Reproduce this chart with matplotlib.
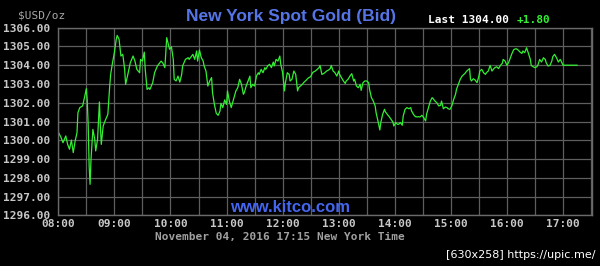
import numpy as np
import matplotlib.pyplot as plt

# minutes after 08:00 and bid price
minutes = [0, 3, 5, 8, 10, 12, 14, 16, 18, 20, 21, 23, 26, 28, 30, 31, 32, 33, 34, 35,
           37, 39, 40, 42, 44, 45, 46, 48, 50, 53, 55, 56, 58, 60, 62, 63, 65, 67, 69, 71,
           72, 74, 77, 80, 82, 84, 87, 88, 90, 92, 93, 95, 97, 98, 101, 103, 106, 110, 112, 114,
           116, 119, 121, 123, 124, 126, 128, 130, 132, 133, 136, 139, 140, 142, 144, 146, 148, 149, 151, 153,
           155, 156, 158, 160, 162, 164, 165, 167, 169, 171, 173, 174, 176, 178, 180, 181, 183, 185, 187, 189,
           190, 192, 194, 196, 198, 199, 201, 203, 205, 206, 208, 210, 212, 214, 215, 217, 219, 221, 222, 224,
           226, 228, 230, 231, 233, 235, 237, 238, 240, 242, 243, 245, 247, 248, 250, 252, 254, 256, 257, 259,
           261, 263, 265, 266, 268, 270, 272, 273, 275, 277, 279, 280, 282, 284, 286, 287, 289, 291, 292, 294,
           296, 298, 300, 301, 303, 305, 307, 308, 310, 312, 314, 316, 317, 319, 321, 323, 324, 326, 328, 330,
           332, 333, 335, 337, 339, 340, 342, 344, 345, 347, 349, 350, 352, 354, 356, 358, 359, 361, 363, 364,
           366, 368, 369, 371, 373, 375, 377, 378, 380, 382, 384, 385, 387, 389, 391, 393, 394, 396, 398, 400,
           401, 403, 405, 407, 409, 410, 412, 414, 416, 417, 419, 421, 423, 425, 426, 428, 430, 432, 434, 435,
           437, 439, 440, 441, 442, 444, 446, 448, 450, 451, 453, 455, 457, 458, 460, 462, 464, 466, 467, 469,
           471, 473, 475, 476, 478, 480, 482, 483, 485, 487, 488, 490, 492, 494, 496, 497, 499, 501, 503, 505,
           506, 508, 510, 512, 513, 515, 517, 519, 521, 522, 524, 526, 528, 529, 531, 533, 535, 537, 538, 540,
           555]
bid = [1300.44, 1300.14, 1299.87, 1300.23, 1299.78, 1299.52, 1300.01, 1299.34, 1299.96, 1300.40,
       1301.47, 1301.74, 1301.83, 1302.27, 1302.75, 1302.09, 1300.76, 1298.63, 1297.65, 1298.98,
       1300.58, 1300.05, 1299.43, 1300.05, 1302.04, 1300.76, 1299.78, 1300.76, 1301.03, 1301.38,
       1302.89, 1303.51, 1304.13, 1304.67, 1305.38, 1305.59, 1305.38, 1304.49, 1304.58, 1303.78,
       1302.98, 1303.42, 1304.13, 1304.49, 1304.22, 1303.78, 1303.60, 1304.31, 1304.22, 1304.70,
       1303.78, 1302.71, 1302.80, 1302.71, 1303.07, 1303.60, 1303.96, 1304.22, 1304.10, 1303.87,
       1305.47, 1304.85, 1304.99, 1304.31, 1303.25, 1303.16, 1303.42, 1303.10, 1303.51, 1303.96,
       1304.31, 1304.40, 1304.31, 1304.45, 1304.58, 1304.31, 1304.76, 1304.22, 1304.81, 1304.40,
       1304.22, 1303.96, 1303.69, 1302.89, 1303.16, 1303.34, 1302.54, 1301.91, 1301.44, 1301.33,
       1301.56, 1301.97, 1301.74, 1302.15, 1301.91, 1302.63, 1302.09, 1301.74, 1302.09, 1302.45,
       1302.63, 1302.80, 1303.25, 1302.98, 1302.45, 1302.54, 1302.89, 1303.16, 1303.42, 1302.80,
       1302.98, 1302.89, 1303.42, 1303.60, 1303.51, 1303.78, 1303.60, 1303.87, 1303.78, 1303.96,
       1304.05, 1303.87, 1304.17, 1303.96, 1304.31, 1304.22, 1304.49, 1304.05, 1303.60, 1302.63,
       1303.07, 1303.60, 1303.51, 1303.16, 1303.25, 1303.69, 1303.51, 1302.63, 1302.80, 1302.89,
       1302.98, 1303.10, 1303.19, 1303.25, 1303.34, 1303.39, 1303.60, 1303.64, 1303.69, 1303.78,
       1303.87, 1303.99, 1303.51, 1303.56, 1303.64, 1303.69, 1303.74, 1303.82, 1303.99, 1303.69,
       1303.60, 1303.42, 1303.69, 1303.51, 1303.34, 1303.16, 1303.03, 1303.16, 1303.25, 1303.42,
       1303.55, 1303.16, 1303.25, 1302.89, 1302.80, 1302.98, 1302.66, 1303.07, 1303.16, 1303.16,
       1303.07, 1302.71, 1302.27, 1302.09, 1301.83, 1301.47, 1301.03, 1300.55, 1300.94, 1301.38,
       1301.65, 1301.51, 1301.38, 1301.26, 1301.12, 1300.97, 1300.76, 1300.94, 1300.85, 1300.85,
       1300.94, 1300.80, 1301.29, 1301.65, 1301.74, 1301.68, 1301.74, 1301.56, 1301.38, 1301.26,
       1301.24, 1301.26, 1301.24, 1301.33, 1301.20, 1301.03, 1301.38, 1301.74, 1302.09, 1302.27,
       1302.22, 1302.09, 1302.00, 1301.83, 1301.86, 1302.09, 1301.68, 1301.77, 1301.74, 1301.68,
       1301.65, 1301.83, 1302.18, 1302.45, 1302.71, 1302.98, 1303.25, 1303.42, 1303.51, 1303.56,
       1303.69, 1303.78, 1303.82, 1303.25, 1303.16, 1303.28, 1303.21, 1303.07, 1303.42, 1303.69,
       1303.78, 1303.60, 1303.51, 1303.60, 1303.69, 1303.99, 1303.69, 1303.82, 1303.87, 1303.92,
       1303.82, 1303.99, 1304.10, 1304.31, 1304.22, 1303.99, 1304.17, 1304.31, 1304.58, 1304.81,
       1304.85, 1304.88, 1304.81, 1304.70, 1304.63, 1304.76, 1304.67, 1304.93, 1304.63, 1304.31,
       1303.99, 1303.92, 1303.87, 1303.92, 1303.99, 1304.31, 1304.17, 1304.40, 1304.31, 1304.13,
       1303.96, 1303.99, 1304.22, 1304.45, 1304.58, 1304.40, 1304.17, 1304.31, 1304.22, 1304.00,
       1304.00]

hour_labels = ['08:00', '09:00', '10:00', '11:00', '12:00', '13:00', '14:00', '15:00', '16:00', '17:00']
price_ticks = [1296, 1297, 1298, 1299, 1300, 1301, 1302, 1303, 1304, 1305, 1306]
last_price = 1304.00
change = 1.80

mono = 'DejaVu Sans Mono'
grey = '#c8c8c8'

fig = plt.figure(figsize=(6, 2.66), dpi=100, facecolor='black')
ax = fig.add_axes([58.3/600, 1-215.3/266, (592-58.3)/600, (215.3-27.7)/266])
ax.set_facecolor('black')

ax.plot(minutes, bid, color='#33ee33', lw=0.9)

ax.set_xlim(0, 571)
ax.set_ylim(1296, 1306)
ax.set_xticks([60*i for i in range(len(hour_labels))])
ax.set_xticklabels(hour_labels)
ax.set_xticks(np.arange(30, 571, 60), minor=True)
ax.set_yticks(price_ticks)
ax.set_yticklabels(['%.2f' % p for p in price_ticks])
ax.grid(True, which='both', color='#5e5e5e', lw=0.9)
ax.tick_params(which='both', length=0, colors=grey, labelsize=8)
ax.tick_params(axis='y', pad=6)
ax.tick_params(axis='x', pad=3)
for lab in ax.get_xticklabels() + ax.get_yticklabels():
    lab.set_fontfamily(mono)
    lab.set_fontweight('bold')
for s in ax.spines.values():
    s.set_color('#6a6a6a')
    s.set_linewidth(1)

fig.text(18/600, 1-15/266, '$USD/oz', color='#a8a8a8', family=mono, fontsize=8, va='center')
fig.text(291/600, 1-16/266, 'New York Spot Gold (Bid)', color='#5575e6',
         family='Liberation Sans', weight='bold', fontsize=12.5, ha='center', va='center')
fig.text(428/600, 1-20/266, 'Last %.2f' % last_price, color='white', family=mono,
         weight='bold', fontsize=8, va='center')
fig.text(517/600, 1-20/266, '%+.2f' % change, color='#33ee33', family=mono,
         weight='bold', fontsize=8, va='center')
fig.text(290/600, 1-208/266, 'www.kitco.com', color='#4466ee',
         family='Liberation Sans', weight='bold', fontsize=12, ha='center', va='center')
fig.text(280/600, 1-237/266, 'November 04, 2016 17:15 New York Time', color='#a0a0a0',
         family=mono, weight='bold', fontsize=8, ha='center', va='center')
fig.text(595/600, 1-255/266, '[630x258] https://upic.me/', color='white',
         family='DejaVu Sans', fontsize=8, ha='right', va='center')

fig.savefig('out.png', dpi=100, facecolor='black')
